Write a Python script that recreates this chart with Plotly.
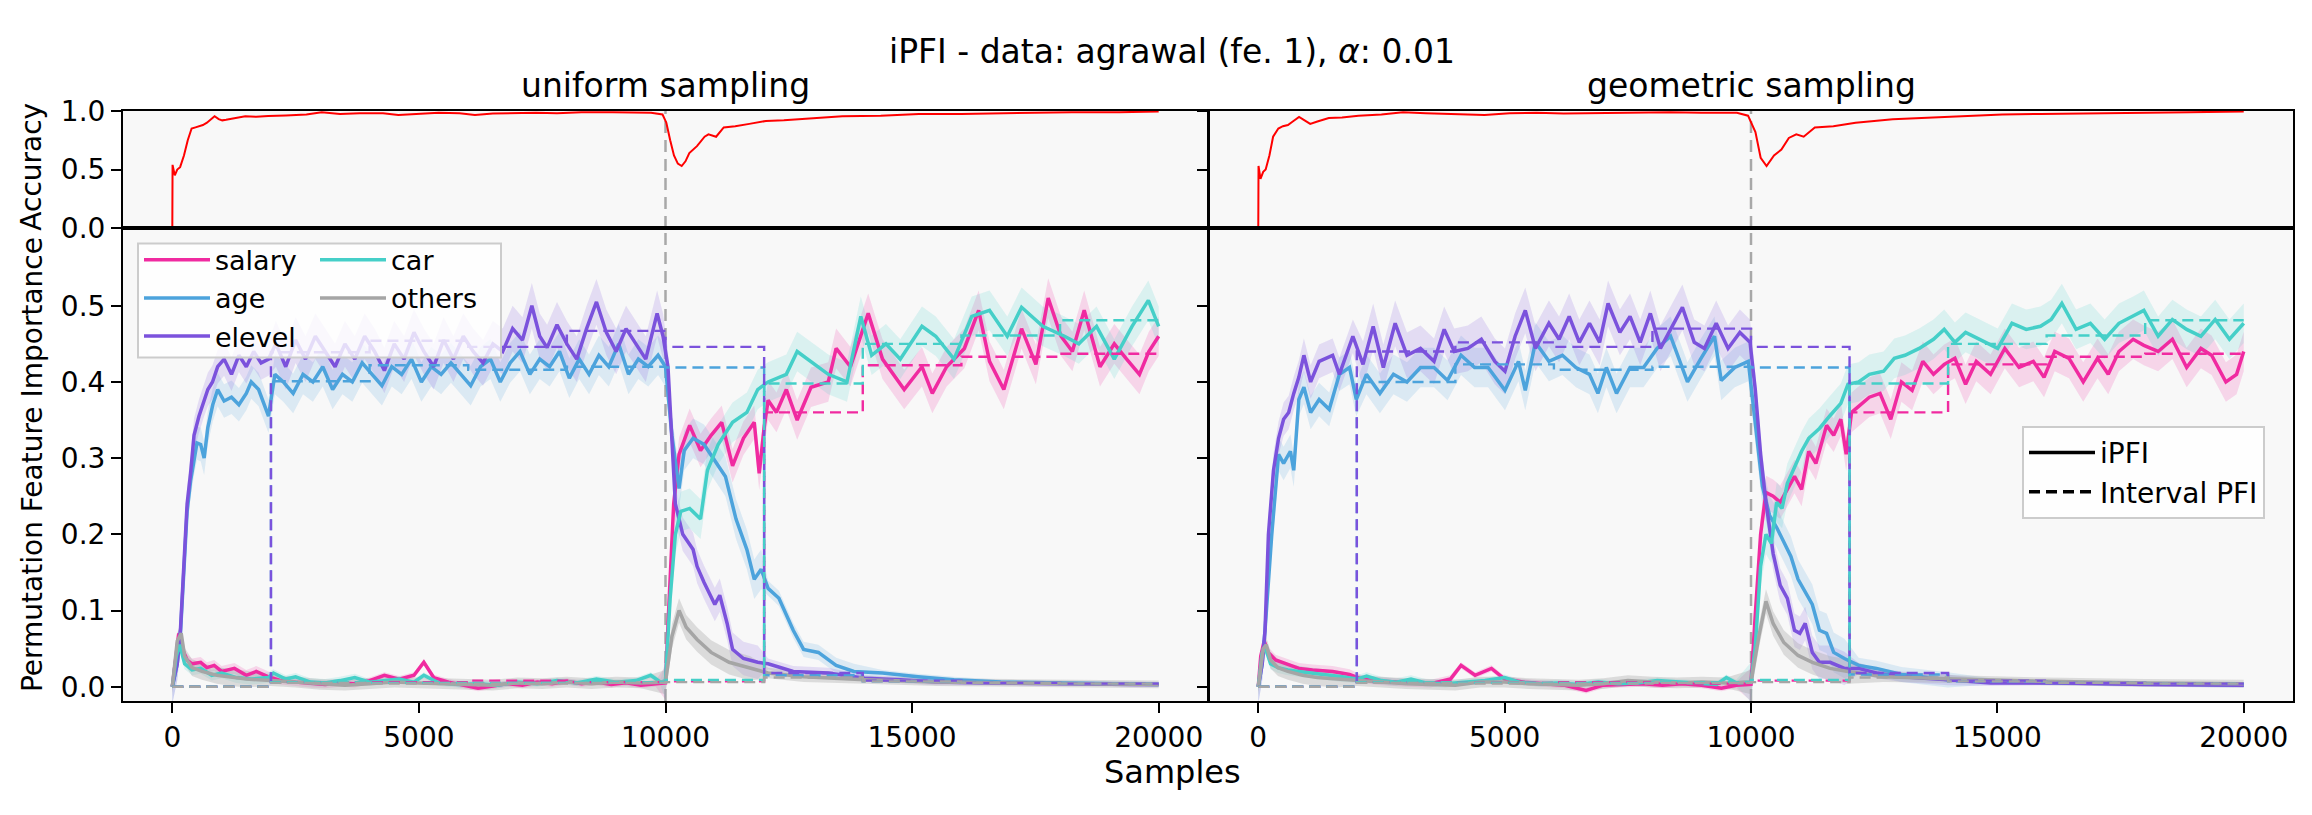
import plotly.graph_objects as go

W, H = 2312, 815
FONT = "DejaVu Sans"

FEATURES = ["salary", "age", "elevel", "car", "others"]
COLORS = {"salary": "#F02AA0", "age": "#4CA3DC", "elevel": "#7B52DC",
          "car": "#45CFC8", "others": "#A5A5A5"}
BAND_ALPHA = {"salary": 0.17, "age": 0.17, "elevel": 0.17, "car": 0.17, "others": 0.35}
DRIFT_POINT = 10000
INTERVAL_EDGES = [0, 2000, 4000, 6000, 8000, 10000, 12000, 14000, 16000, 18000, 20000]
X_TICKS = [0, 5000, 10000, 15000, 20000]
ACC_TICKS = [0.0, 0.5, 1.0]
PFI_TICKS = [0.0, 0.1, 0.2, 0.3, 0.4, 0.5]

# ---------------- accuracy (sample, accuracy) ----------------
U_ACC = [(0, 0.0), (5, 0.54), (50, 0.45), (100, 0.5), (158, 0.52), (236, 0.62), (313, 0.75), (391, 0.85),
         (470, 0.86), (546, 0.87), (620, 0.88), (702, 0.9), (780, 0.93), (857, 0.955), (940, 0.93),
         (1013, 0.92), (1090, 0.925), (1168, 0.93), (1300, 0.94), (1479, 0.955), (1700, 0.95),
         (1945, 0.958), (2300, 0.962), (2719, 0.97), (3030, 0.99), (3400, 0.975), (3800, 0.98),
         (4272, 0.98), (4583, 0.965), (5000, 0.975), (5400, 0.985), (5825, 0.98), (6136, 0.965),
         (6500, 0.978), (7000, 0.98), (7378, 0.985), (7800, 0.98), (8300, 0.99), (8930, 0.99),
         (9400, 0.985), (9707, 0.985), (9940, 0.97), (10017, 0.9), (10095, 0.75), (10172, 0.62),
         (10250, 0.55), (10328, 0.53), (10405, 0.57), (10483, 0.64), (10638, 0.70), (10793, 0.78),
         (10871, 0.80), (11026, 0.78), (11181, 0.86), (11414, 0.87), (11700, 0.89), (12035, 0.915),
         (12400, 0.92), (12811, 0.93), (13200, 0.945), (13587, 0.955), (14363, 0.96), (15139, 0.975),
         (16000, 0.975), (16690, 0.98), (17500, 0.985), (18242, 0.99), (19200, 0.99), (20000, 0.995)]
G_ACC = [(0, 0.0), (5, 0.53), (45, 0.42), (100, 0.48), (150, 0.5), (226, 0.62), (301, 0.78), (407, 0.85),
         (500, 0.87), (602, 0.88), (700, 0.91), (828, 0.95), (940, 0.92), (1054, 0.89), (1200, 0.91),
         (1431, 0.94), (1700, 0.945), (2033, 0.96), (2500, 0.97), (2937, 0.99), (3400, 0.98),
         (3840, 0.975), (4200, 0.975), (4593, 0.965), (5100, 0.98), (5648, 0.985), (6200, 0.978),
         (6852, 0.98), (7500, 0.985), (8358, 0.99), (9000, 0.985), (9714, 0.985), (9940, 0.96),
         (10090, 0.82), (10196, 0.6), (10316, 0.53), (10467, 0.62), (10617, 0.67), (10768, 0.77),
         (10919, 0.80), (11069, 0.78), (11295, 0.86), (11672, 0.87), (12123, 0.9), (12876, 0.93),
         (13600, 0.945), (14382, 0.96), (15100, 0.97), (15888, 0.975), (16600, 0.98), (17394, 0.985),
         (18100, 0.985), (18900, 0.99), (20000, 0.995)]

# ---------------- iPFI, uniform sampling (sample, importance) ----------------
U_SALARY = [(0, 0.0), (60, 0.03), (130, 0.07), (200, 0.05), (300, 0.035), (400, 0.03), (575, 0.032),
            (700, 0.025), (850, 0.028), (1000, 0.02), (1260, 0.024), (1500, 0.015), (1700, 0.02),
            (1950, 0.013), (2200, 0.008), (2500, 0.006), (2800, 0.004), (3100, 0.003), (3400, 0.005),
            (3700, 0.004), (4000, 0.008), (4300, 0.015), (4600, 0.01), (4900, 0.015), (5100, 0.032),
            (5300, 0.012), (5600, 0.006), (5900, 0.002), (6200, -0.002), (6500, 0.001), (6800, 0.004),
            (7100, 0.002), (7400, 0.006), (7700, 0.004), (8000, 0.007), (8300, 0.004), (8600, 0.006),
            (8900, 0.003), (9200, 0.005), (9500, 0.002), (9800, 0.004), (10000, 0.005), (10060, 0.095),
            (10166, 0.24), (10275, 0.305), (10490, 0.343), (10710, 0.31), (10925, 0.33), (11140, 0.347),
            (11360, 0.29), (11580, 0.326), (11800, 0.347), (11900, 0.28), (12000, 0.34), (12080, 0.376),
            (12250, 0.36), (12450, 0.39), (12670, 0.35), (12950, 0.393), (13300, 0.40), (13460, 0.444),
            (13750, 0.42), (14110, 0.49), (14400, 0.43), (14840, 0.39), (15200, 0.42), (15410, 0.385),
            (15700, 0.42), (16060, 0.444), (16350, 0.494), (16570, 0.427), (16860, 0.39), (17220, 0.47),
            (17510, 0.423), (17760, 0.51), (18020, 0.46), (18250, 0.44), (18490, 0.494), (18810, 0.42),
            (19100, 0.45), (19350, 0.43), (19610, 0.41), (19800, 0.44), (20000, 0.46)]
U_AGE = [(0, 0.0), (100, 0.03), (165, 0.07), (233, 0.15), (300, 0.23), (370, 0.27), (440, 0.30),
         (500, 0.32), (575, 0.318), (645, 0.30), (720, 0.34), (820, 0.37), (920, 0.39), (1050, 0.375),
         (1200, 0.38), (1350, 0.37), (1500, 0.385), (1600, 0.40), (1750, 0.39), (1950, 0.355),
         (2080, 0.41), (2250, 0.40), (2450, 0.385), (2650, 0.41), (2850, 0.40), (3050, 0.42),
         (3250, 0.39), (3450, 0.41), (3650, 0.40), (3850, 0.425), (4050, 0.41), (4250, 0.395),
         (4450, 0.42), (4650, 0.41), (4850, 0.43), (5050, 0.40), (5250, 0.42), (5450, 0.41),
         (5650, 0.425), (5850, 0.41), (6050, 0.395), (6250, 0.42), (6450, 0.43), (6650, 0.40),
         (6850, 0.425), (7050, 0.44), (7250, 0.41), (7450, 0.43), (7650, 0.42), (7850, 0.44),
         (8050, 0.405), (8250, 0.43), (8450, 0.41), (8650, 0.435), (8850, 0.42), (9050, 0.45),
         (9250, 0.41), (9450, 0.43), (9650, 0.42), (9850, 0.435), (10000, 0.42), (10130, 0.33),
         (10275, 0.26), (10380, 0.31), (10560, 0.326), (10780, 0.318), (11000, 0.297), (11215, 0.276),
         (11430, 0.22), (11650, 0.18), (11800, 0.141), (11940, 0.154), (12080, 0.129), (12300, 0.116),
         (12590, 0.074), (12800, 0.049), (13100, 0.045), (13460, 0.028), (13820, 0.02), (14400, 0.018),
         (15120, 0.013), (15850, 0.009), (16800, 0.006), (18000, 0.005), (19000, 0.004), (20000, 0.003)]
U_ELEVEL = [(0, 0.0), (100, 0.03), (165, 0.075), (233, 0.16), (300, 0.24), (370, 0.28), (440, 0.33),
            (540, 0.355), (645, 0.377), (720, 0.39), (815, 0.40), (920, 0.42), (1050, 0.43), (1200, 0.41),
            (1350, 0.435), (1500, 0.42), (1650, 0.44), (1800, 0.425), (1950, 0.43), (2100, 0.45),
            (2300, 0.42), (2500, 0.455), (2700, 0.43), (2900, 0.46), (3100, 0.44), (3300, 0.42),
            (3500, 0.45), (3700, 0.43), (3900, 0.46), (4100, 0.44), (4300, 0.415), (4500, 0.45),
            (4700, 0.43), (4900, 0.465), (5100, 0.44), (5300, 0.42), (5500, 0.455), (5700, 0.43),
            (5900, 0.46), (6100, 0.44), (6300, 0.425), (6500, 0.45), (6700, 0.44), (6900, 0.47),
            (7100, 0.455), (7290, 0.50), (7450, 0.46), (7600, 0.445), (7800, 0.475), (8000, 0.45),
            (8200, 0.43), (8400, 0.47), (8600, 0.505), (8800, 0.465), (9000, 0.44), (9200, 0.47),
            (9400, 0.45), (9600, 0.43), (9830, 0.49), (9950, 0.46), (10050, 0.42), (10094, 0.37),
            (10130, 0.33), (10200, 0.24), (10350, 0.20), (10560, 0.18), (10640, 0.158), (10780, 0.137),
            (11000, 0.108), (11100, 0.12), (11250, 0.083), (11360, 0.049), (11580, 0.037), (11870, 0.032),
            (12080, 0.03), (12590, 0.02), (13300, 0.018), (14040, 0.011), (14760, 0.009), (15500, 0.006),
            (16500, 0.005), (17500, 0.004), (18500, 0.004), (19500, 0.003), (20000, 0.003)]
U_CAR = [(0, 0.0), (80, 0.04), (150, 0.055), (250, 0.03), (400, 0.022), (575, 0.024), (800, 0.015),
         (1000, 0.018), (1300, 0.012), (1600, 0.01), (1950, 0.012), (2050, 0.018), (2300, 0.01),
         (2500, 0.013), (2800, 0.006), (3100, 0.005), (3400, 0.008), (3700, 0.012), (4000, 0.006),
         (4300, 0.008), (4600, 0.01), (4900, 0.006), (5100, 0.015), (5400, 0.005), (5800, 0.003),
         (6200, 0.004), (6600, 0.002), (7000, 0.006), (7400, 0.004), (7800, 0.008), (8200, 0.005),
         (8600, 0.01), (9000, 0.006), (9400, 0.008), (9700, 0.015), (9900, 0.006), (10000, 0.008),
         (10094, 0.116), (10200, 0.20), (10310, 0.23), (10490, 0.234), (10710, 0.22), (10850, 0.284),
         (11070, 0.318), (11360, 0.347), (11650, 0.36), (11870, 0.39), (12080, 0.40), (12450, 0.41),
         (12670, 0.44), (12950, 0.427), (13300, 0.41), (13680, 0.40), (13960, 0.486), (14180, 0.435),
         (14470, 0.45), (14760, 0.43), (15200, 0.473), (15480, 0.46), (15850, 0.43), (16210, 0.486),
         (16570, 0.494), (16930, 0.46), (17220, 0.498), (17650, 0.473), (18090, 0.46), (18380, 0.45),
         (18740, 0.473), (19100, 0.43), (19460, 0.473), (19790, 0.507), (20000, 0.473)]
U_OTHERS = [(0, 0.0), (100, 0.06), (180, 0.07), (250, 0.04), (400, 0.025), (600, 0.02), (900, 0.015),
            (1200, 0.012), (1500, 0.01), (2000, 0.008), (2500, 0.006), (3000, 0.003), (3500, 0.002),
            (4000, 0.004), (4500, 0.006), (5000, 0.005), (5500, 0.004), (6000, 0.003), (6500, 0.002),
            (7000, 0.005), (7500, 0.004), (8000, 0.006), (8500, 0.004), (9000, 0.006), (9500, 0.005),
            (10000, 0.006), (10130, 0.066), (10275, 0.10), (10420, 0.078), (10640, 0.062), (10925, 0.045),
            (11290, 0.032), (11720, 0.024), (12080, 0.018), (12800, 0.013), (14040, 0.009), (15500, 0.006),
            (17000, 0.005), (18500, 0.004), (20000, 0.003)]

# ---------------- iPFI, geometric sampling ----------------
G_SALARY = [(0, 0.0), (50, 0.04), (120, 0.06), (200, 0.045), (350, 0.035), (480, 0.032), (650, 0.028),
            (823, 0.024), (1100, 0.022), (1509, 0.02), (1852, 0.016), (2100, 0.01), (2500, 0.007),
            (3000, 0.005), (3500, 0.004), (3900, 0.01), (4115, 0.028), (4400, 0.015), (4733, 0.024),
            (5000, 0.01), (5400, 0.006), (5800, 0.004), (6200, 0.002), (6653, -0.005), (7000, 0.002),
            (7400, 0.003), (7800, 0.004), (8200, 0.002), (8600, 0.004), (9000, 0.002), (9400, -0.002),
            (9700, 0.002), (10000, 0.003), (10087, 0.095), (10195, 0.2), (10304, 0.255), (10449, 0.25),
            (10593, 0.242), (10738, 0.259), (10883, 0.276), (11027, 0.259), (11172, 0.309), (11317, 0.293),
            (11534, 0.343), (11678, 0.33), (11823, 0.351), (11932, 0.305), (12040, 0.36), (12185, 0.368),
            (12402, 0.38), (12619, 0.385), (12836, 0.351), (13053, 0.40), (13270, 0.389), (13487, 0.427),
            (13704, 0.41), (13921, 0.423), (14138, 0.431), (14355, 0.397), (14572, 0.427), (14862, 0.41),
            (15151, 0.444), (15441, 0.419), (15730, 0.427), (15947, 0.406), (16164, 0.44), (16454, 0.431),
            (16743, 0.40), (17033, 0.431), (17250, 0.41), (17467, 0.44), (17756, 0.456), (17973, 0.448),
            (18263, 0.44), (18552, 0.456), (18842, 0.419), (19131, 0.444), (19348, 0.435), (19638, 0.40),
            (19855, 0.41), (20000, 0.44)]
G_AGE = [(0, 0.0), (80, 0.03), (137, 0.074), (274, 0.2), (412, 0.305), (514, 0.293), (652, 0.309),
         (720, 0.284), (823, 0.377), (926, 0.393), (1063, 0.36), (1235, 0.377), (1440, 0.364), (1646, 0.41),
         (1852, 0.419), (1989, 0.377), (2195, 0.41), (2469, 0.385), (2744, 0.41), (3018, 0.40),
         (3292, 0.419), (3567, 0.419), (3841, 0.402), (4115, 0.435), (4390, 0.419), (4664, 0.419),
         (5007, 0.389), (5281, 0.427), (5419, 0.389), (5625, 0.452), (5899, 0.427), (6173, 0.435),
         (6447, 0.419), (6722, 0.41), (6893, 0.385), (7065, 0.419), (7271, 0.385), (7545, 0.419),
         (7819, 0.419), (8093, 0.444), (8368, 0.46), (8711, 0.40), (8985, 0.431), (9259, 0.46),
         (9396, 0.402), (9671, 0.419), (9945, 0.427), (10123, 0.326), (10232, 0.263), (10376, 0.225),
         (10521, 0.209), (10666, 0.19), (10810, 0.171), (10955, 0.141), (11100, 0.125), (11244, 0.108),
         (11389, 0.074), (11534, 0.07), (11678, 0.045), (11896, 0.037), (12185, 0.028), (12547, 0.024),
         (13053, 0.016), (13994, 0.009), (14862, 0.007), (16309, 0.005), (18000, 0.004), (20000, 0.002)]
G_ELEVEL = [(0, 0.0), (80, 0.03), (137, 0.074), (206, 0.2), (309, 0.284), (412, 0.326), (514, 0.351),
            (617, 0.36), (720, 0.385), (823, 0.406), (926, 0.435), (1063, 0.40), (1235, 0.427), (1509, 0.435),
            (1646, 0.41), (1920, 0.46), (2126, 0.423), (2332, 0.473), (2538, 0.419), (2778, 0.477),
            (3018, 0.435), (3292, 0.444), (3567, 0.427), (3773, 0.469), (3978, 0.44), (4253, 0.444),
            (4527, 0.456), (4801, 0.427), (5007, 0.414), (5213, 0.46), (5419, 0.494), (5625, 0.444),
            (5899, 0.477), (6105, 0.456), (6310, 0.486), (6516, 0.452), (6722, 0.477), (6928, 0.452),
            (7099, 0.503), (7339, 0.465), (7545, 0.486), (7751, 0.452), (7957, 0.49), (8162, 0.444),
            (8368, 0.469), (8608, 0.498), (8848, 0.452), (9054, 0.444), (9294, 0.477), (9534, 0.444),
            (9774, 0.465), (9980, 0.452), (10087, 0.39), (10195, 0.305), (10304, 0.242), (10449, 0.175),
            (10593, 0.133), (10738, 0.116), (10883, 0.074), (10991, 0.07), (11100, 0.083), (11244, 0.045),
            (11389, 0.032), (11606, 0.032), (11896, 0.024), (12185, 0.024), (12547, 0.018), (13053, 0.013),
            (13994, 0.009), (14862, 0.005), (16309, 0.005), (18000, 0.003), (20000, 0.002)]
G_CAR = [(0, 0.0), (80, 0.045), (150, 0.05), (250, 0.03), (400, 0.025), (600, 0.022), (823, 0.02),
         (1100, 0.018), (1400, 0.015), (1700, 0.013), (2000, 0.01), (2200, 0.014), (2500, 0.008),
         (2800, 0.006), (3100, 0.01), (3400, 0.005), (3800, 0.004), (4200, 0.006), (4600, 0.008),
         (5000, 0.012), (5300, 0.006), (5700, 0.004), (6100, 0.005), (6500, 0.003), (6900, 0.006),
         (7300, 0.004), (7700, 0.005), (8100, 0.008), (8500, 0.006), (8900, 0.004), (9300, 0.003),
         (9500, 0.012), (9700, 0.005), (10000, 0.006), (10087, 0.053), (10195, 0.158), (10304, 0.2),
         (10413, 0.188), (10521, 0.242), (10630, 0.234), (10738, 0.267), (10883, 0.288), (11027, 0.309),
         (11172, 0.326), (11389, 0.339), (11606, 0.356), (11823, 0.372), (11968, 0.397), (12185, 0.40),
         (12402, 0.41), (12691, 0.414), (12908, 0.431), (13125, 0.435), (13414, 0.444), (13704, 0.456),
         (13921, 0.469), (14138, 0.452), (14355, 0.465), (14645, 0.456), (15007, 0.444), (15296, 0.477),
         (15586, 0.469), (15875, 0.473), (16092, 0.482), (16309, 0.503), (16598, 0.469), (16888, 0.477),
         (17177, 0.456), (17467, 0.477), (17756, 0.486), (17973, 0.494), (18263, 0.46), (18552, 0.482),
         (18842, 0.469), (19131, 0.46), (19421, 0.482), (19710, 0.456), (20000, 0.477)]
G_OTHERS = [(0, 0.0), (100, 0.05), (160, 0.055), (250, 0.035), (400, 0.025), (600, 0.02), (900, 0.015),
            (1200, 0.012), (1600, 0.01), (2000, 0.008), (2500, 0.006), (3000, 0.004), (3500, 0.003),
            (4000, 0.002), (4500, 0.006), (5000, 0.006), (5500, 0.004), (6000, 0.003), (6500, 0.002),
            (7000, 0.004), (7500, 0.008), (8000, 0.006), (8500, 0.005), (9000, 0.006), (9500, 0.005),
            (10000, 0.006), (10159, 0.066), (10304, 0.112), (10449, 0.083), (10666, 0.058), (10955, 0.041),
            (11244, 0.032), (11606, 0.024), (11968, 0.02), (12691, 0.013), (14138, 0.01), (16000, 0.007),
            (18000, 0.005), (20000, 0.004)]

# ---------------- band half-widths per 2000-sample interval ----------------
U_SD = {"salary": [0.007, 0.005, 0.004, 0.004, 0.004, 0.022, 0.026, 0.026, 0.026, 0.026],
        "age": [0.022, 0.026, 0.026, 0.026, 0.026, 0.026, 0.01, 0.004, 0.003, 0.003],
        "elevel": [0.022, 0.03, 0.03, 0.03, 0.03, 0.022, 0.007, 0.004, 0.003, 0.003],
        "car": [0.007, 0.005, 0.004, 0.004, 0.004, 0.026, 0.026, 0.026, 0.026, 0.026],
        "others": [0.011, 0.007, 0.007, 0.007, 0.007, 0.016, 0.007, 0.005, 0.005, 0.005]}
G_SD = {"salary": [0.007, 0.005, 0.004, 0.004, 0.004, 0.022, 0.026, 0.026, 0.026, 0.026],
        "age": [0.022, 0.026, 0.026, 0.026, 0.026, 0.026, 0.01, 0.004, 0.003, 0.003],
        "elevel": [0.022, 0.03, 0.03, 0.03, 0.03, 0.022, 0.007, 0.004, 0.003, 0.003],
        "car": [0.007, 0.005, 0.004, 0.004, 0.004, 0.026, 0.026, 0.026, 0.026, 0.026],
        "others": [0.011, 0.007, 0.007, 0.007, 0.007, 0.016, 0.007, 0.005, 0.005, 0.005]}

# ---------------- interval PFI (value per 2000-sample interval) ----------------
U_INTERVAL = {"salary": [0.0, 0.006, 0.006, 0.008, 0.006, 0.007, 0.36, 0.422, 0.433, 0.437],
              "age": [0.0, 0.401, 0.422, 0.416, 0.42, 0.419, 0.015, 0.007, 0.005, 0.004],
              "elevel": [0.0, 0.439, 0.454, 0.446, 0.467, 0.446, 0.018, 0.008, 0.005, 0.004],
              "car": [0.0, 0.006, 0.005, 0.005, 0.006, 0.009, 0.398, 0.45, 0.461, 0.481],
              "others": [0.0, 0.005, 0.004, 0.004, 0.005, 0.006, 0.012, 0.007, 0.005, 0.004]}
G_INTERVAL = {"salary": [0.0, 0.006, 0.005, 0.006, 0.004, 0.008, 0.36, 0.423, 0.433, 0.437],
              "age": [0.0, 0.40, 0.423, 0.416, 0.42, 0.419, 0.016, 0.007, 0.005, 0.004],
              "elevel": [0.0, 0.44, 0.452, 0.446, 0.47, 0.446, 0.018, 0.008, 0.005, 0.004],
              "car": [0.0, 0.006, 0.005, 0.005, 0.006, 0.009, 0.398, 0.45, 0.461, 0.481],
              "others": [0.0, 0.005, 0.004, 0.004, 0.005, 0.006, 0.012, 0.007, 0.005, 0.004]}

U_SERIES = {"salary": U_SALARY, "age": U_AGE, "elevel": U_ELEVEL, "car": U_CAR, "others": U_OTHERS}
G_SERIES = {"salary": G_SALARY, "age": G_AGE, "elevel": G_ELEVEL, "car": G_CAR, "others": G_OTHERS}

TITLE = "iPFI - data: agrawal (fe. 1), <i>α</i>: 0.01"
SUBTITLES = ["uniform sampling", "geometric sampling"]


def rgba(hexc, a):
    h = hexc.lstrip("#")
    return "rgba(%d,%d,%d,%.2f)" % (int(h[0:2], 16), int(h[2:4], 16), int(h[4:6], 16), a)


def px_x(p):
    return p / W


def px_y(p):
    return 1 - p / H


fig = go.Figure()

LEGEND_OF = {"salary": "legend", "age": "legend", "elevel": "legend", "car": "legend2", "others": "legend2"}


def add_panel(acc, series, sd, interval, xa_acc, ya_acc, xa, ya, first):
    fig.add_trace(go.Scatter(x=[p[0] for p in acc], y=[p[1] for p in acc], mode="lines",
                             line=dict(color="#ff0000", width=2), xaxis=xa_acc, yaxis=ya_acc,
                             showlegend=False, hoverinfo="skip"))
    for f in FEATURES:
        xs = [p[0] for p in series[f]]
        ys = [p[1] for p in series[f]]
        half = [sd[f][min(int(x // 2000), 9)] for x in xs]
        up = [y + h for y, h in zip(ys, half)]
        lo = [y - h for y, h in zip(ys, half)]
        fig.add_trace(go.Scatter(x=xs + xs[::-1], y=up + lo[::-1], fill="toself",
                                 fillcolor=rgba(COLORS[f], BAND_ALPHA[f]), line=dict(width=0),
                                 mode="lines", xaxis=xa, yaxis=ya, showlegend=False, hoverinfo="skip"))
    for f in FEATURES:
        fig.add_trace(go.Scatter(x=[p[0] for p in series[f]], y=[p[1] for p in series[f]], mode="lines",
                                 name=f, line=dict(color=COLORS[f], width=3.5), xaxis=xa, yaxis=ya,
                                 showlegend=first, legend=LEGEND_OF[f], hoverinfo="skip"))
    for f in FEATURES:
        vals = interval[f]
        fig.add_trace(go.Scatter(x=INTERVAL_EDGES, y=vals + [vals[-1]], mode="lines", line_shape="hv",
                                 line=dict(color=COLORS[f], width=2.4, dash="11px,6px"),
                                 xaxis=xa, yaxis=ya, showlegend=False, hoverinfo="skip"))


add_panel(U_ACC, U_SERIES, U_SD, U_INTERVAL, "x", "y", "x2", "y2", True)
add_panel(G_ACC, G_SERIES, G_SD, G_INTERVAL, "x3", "y3", "x4", "y4", False)

fig.add_trace(go.Scatter(x=[None], y=[None], mode="lines", name="iPFI", line=dict(color="black", width=3.5),
                         xaxis="x4", yaxis="y4", legend="legend3"))
fig.add_trace(go.Scatter(x=[None], y=[None], mode="lines", name="Interval PFI",
                         line=dict(color="black", width=3.5, dash="11px,6px"),
                         xaxis="x4", yaxis="y4", legend="legend3"))

LX = [123, 1208]
RX = [1209, 2293]
ACC_Y = [99, 221]
PFI_Y = [221, 714]

axis_common = dict(showline=True, mirror=True, linecolor="black", linewidth=2, showgrid=False,
                   zeroline=False, ticks="outside", ticklen=10, tickwidth=2, tickcolor="black",
                   tickfont=dict(family=FONT, size=28, color="black"))


def xdict(dom, anchor, labels):
    d = dict(axis_common)
    d.update(domain=[px_x(dom[0]), px_x(dom[1])], anchor=anchor, range=[-1000, 21000],
             tickvals=X_TICKS, tickformat="d")
    if not labels:
        d.update(showticklabels=False, ticks="")
    return d


def ydict(dom, anchor, rng, tv, labels):
    d = dict(axis_common)
    d.update(domain=[px_y(dom[1]), px_y(dom[0])], anchor=anchor, range=rng, tickvals=tv,
             tickformat=".1f", showticklabels=labels)
    return d


PFI_RANGE = [-0.0189, 0.602]
ACC_RANGE = [0, 1]

fig.update_layout(
    width=W, height=H, margin=dict(l=0, r=0, t=0, b=0),
    paper_bgcolor="white", plot_bgcolor="#f8f8f8",
    font=dict(family=FONT, size=28, color="black"),
    xaxis=xdict(LX, "y", False), yaxis=ydict(ACC_Y, "x", ACC_RANGE, ACC_TICKS, True),
    xaxis2=xdict(LX, "y2", True), yaxis2=ydict(PFI_Y, "x2", PFI_RANGE, PFI_TICKS, True),
    xaxis3=xdict(RX, "y3", False), yaxis3=ydict(ACC_Y, "x3", ACC_RANGE, ACC_TICKS, False),
    xaxis4=xdict(RX, "y4", True), yaxis4=ydict(PFI_Y, "x4", PFI_RANGE, PFI_TICKS, False),
    legend=dict(x=px_x(139), y=px_y(229), xanchor="left", yanchor="top", bgcolor="rgba(0,0,0,0)",
                borderwidth=0, font=dict(family=FONT, size=27), itemwidth=66, tracegroupgap=0),
    legend2=dict(x=px_x(315), y=px_y(229), xanchor="left", yanchor="top", bgcolor="rgba(0,0,0,0)",
                 borderwidth=0, font=dict(family=FONT, size=27), itemwidth=66, tracegroupgap=0),
    legend3=dict(x=px_x(2022), y=px_y(427), xanchor="left", yanchor="top", bgcolor="rgba(255,255,255,0.8)",
                 bordercolor="#cccccc", borderwidth=2, font=dict(family=FONT, size=28), itemwidth=66),
)

shapes = []
for xa, ya in [("x", "y"), ("x2", "y2"), ("x3", "y3"), ("x4", "y4")]:
    shapes.append(dict(type="line", xref=xa, yref=ya + " domain", x0=DRIFT_POINT, x1=DRIFT_POINT, y0=0, y1=1,
                       line=dict(color="#a8a8a8", width=2.5, dash="12px,7px"), layer="below"))
shapes.append(dict(type="rect", xref="paper", yref="paper", x0=px_x(138), x1=px_x(501), y0=px_y(356),
                   y1=px_y(237), line=dict(color="#cccccc", width=2), fillcolor="rgba(255,255,255,0.8)",
                   layer="above"))
fig.update_layout(shapes=shapes)

ann = [
    dict(text=TITLE, x=px_x(1172), y=px_y(37), font=dict(size=33)),
    dict(text=SUBTITLES[0], x=px_x((LX[0] + LX[1]) / 2), y=px_y(72), font=dict(size=33)),
    dict(text=SUBTITLES[1], x=px_x((RX[0] + RX[1]) / 2), y=px_y(72), font=dict(size=33)),
    dict(text="Samples", x=px_x(1172), y=px_y(788), font=dict(size=32)),
    dict(text="Accuracy", x=px_x(32), y=px_y(157), textangle=-90, font=dict(size=28)),
    dict(text="Permutation Feature Importance", x=px_x(32), y=px_y(468), textangle=-90, font=dict(size=28)),
]
for a in ann:
    a.update(xref="paper", yref="paper", showarrow=False, xanchor="center", yanchor="middle")
    a["font"] = dict(family=FONT, color="black", **a["font"])
fig.update_layout(annotations=ann)

fig.write_html("out.html", config={"displayModeBar": False},
               post_script="document.body.style.margin='0px';")
